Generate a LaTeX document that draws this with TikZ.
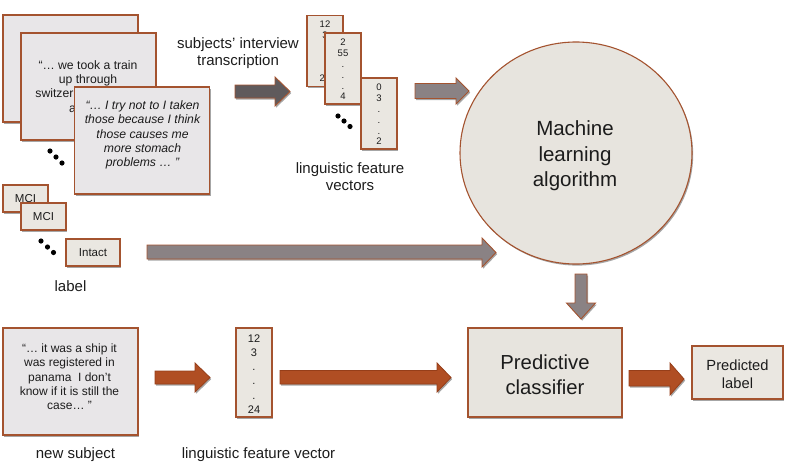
\documentclass[tikz,border=0pt]{standalone}
\usepackage{fontspec}
\setmainfont{Liberation Sans}
\usetikzlibrary{shadows,shapes.geometric}
\definecolor{brd}{RGB}{164,83,47}
\definecolor{qfill}{RGB}{232,230,232}
\definecolor{bfill}{RGB}{234,231,225}
\definecolor{cfill}{RGB}{231,228,222}
\definecolor{garrow}{RGB}{138,130,132}
\definecolor{darrow}{RGB}{95,90,92}
\definecolor{oarrow}{RGB}{176,78,35}
\definecolor{oborder}{RGB}{150,62,25}
\definecolor{txt}{RGB}{28,28,28}
\begin{document}
\begin{tikzpicture}[x=1pt,y=-1pt,
  shd/.style={drop shadow={shadow xshift=1.2pt,shadow yshift=-1.6pt,opacity=0.35,fill=black}},
  boxbase/.style={draw=brd,line width=1.1pt,shd,inner sep=0pt,text=txt},
  quote/.style={boxbase,fill=qfill,minimum width=135pt,minimum height=107pt},
  vec/.style={boxbase,fill=bfill,minimum width=36pt,minimum height=71pt},
  lbl/.style={boxbase,fill=bfill,minimum width=45pt,minimum height=27pt,font=\fontsize{11.5}{13}\selectfont},
  qtext/.style={align=center,text=txt,font=\fontsize{12.2}{14.4}\selectfont},
  vtext/.style={align=center,text=txt,font=\fontsize{9.5}{10.8}\selectfont},
  caption/.style={align=center,text=txt,font=\fontsize{15}{17}\selectfont},
  garr/.style={draw=brd,line width=0.9pt,fill=garrow,shd},
  darr/.style={draw=brd,line width=0.9pt,fill=darrow,shd},
  oarr/.style={draw=oborder,line width=0.8pt,fill=oarrow,shd},
  dotf/.style={fill=black}
]
\useasboundingbox (0,0) rectangle (785,472);

% --- top-left interview cards
\node[quote] (c1) at (70.5,68.5) {};
\node[quote] (c2) at (88.5,86.5) {};
\node[qtext] (c2t) at (88,87.5) {“… we took a train\\up through\\switzerland and the\\alps …};
\node[quote] (c3) at (142,140.5) {};
\node[qtext,font=\fontsize{12.2}{14.4}\selectfont\itshape] (c3t) at (142.5,135) {“… I try not to I taken\\those because I think\\those causes me\\more stomach\\problems … ”};
\fill[dotf] (50,151) circle (2.6) (56,157) circle (2.6) (62,163) circle (2.6);

\node[caption] (subj) at (238,53) {subjects’ interview\\transcription};

% --- top feature vectors
\node[vec] (va) at (325,51) {};
\node[vtext] (vat) at (325,51.5) {12\\3\\.\\.\\.\\24};
\node[vec] (vb) at (343,68.5) {};
\node[vtext] (vbt) at (343,69.5) {2\\55\\.\\.\\.\\4};
\node[vec] (vc) at (379,113.5) {};
\node[vtext] (vct) at (379,114.5) {0\\3\\.\\.\\.\\2};
\fill[dotf] (338,116) circle (2.6) (344,121) circle (2.6) (350,126.5) circle (2.6);
\node[caption] (lfv) at (350,177) {linguistic feature\\vectors};

% --- machine learning circle
\node[draw=brd,line width=1.1pt,fill=cfill,shd,ellipse,minimum width=232pt,minimum height=222pt,inner sep=0pt] (ml) at (576,153) {};
\node[align=center,text=txt,font=\fontsize{20.5}{25.5}\selectfont] (mlt) at (575,156) {Machine\\learning\\algorithm};

% --- labels
\node[lbl] (l1) at (25.5,198.5) {MCI};
\node[lbl] (l2) at (43.5,216.5) {MCI};
\node[lbl,minimum width=54pt] (l3) at (93,252.5) {Intact};
\fill[dotf] (41,241) circle (2.6) (47.5,247) circle (2.6) (53.5,252.5) circle (2.6);
\node[caption] (lab) at (70.5,286) {label};

% --- gray arrows (training)
\draw[darr] (235,85) -- (275,85) -- (275,77) -- (290,91.5) -- (275,106) -- (275,98) -- (235,98) -- cycle;
\draw[garr] (415,83.5) -- (456,83.5) -- (456,78) -- (469,91) -- (456,104) -- (456,98.5) -- (415,98.5) -- cycle;
\draw[garr] (147,245) -- (482,245) -- (482,238) -- (496,252.5) -- (482,267) -- (482,259) -- (147,259) -- cycle;
\draw[garr] (575,274) -- (587,274) -- (587,303) -- (595.5,303) -- (581,319) -- (566.5,303) -- (575,303) -- cycle;

% --- bottom row
\node[quote] (ns) at (70.5,381.5) {};
\node[qtext,font=\fontsize{12}{14.3}\selectfont] (nst) at (69.5,377) {“… it was a ship it\\was registered in\\panama~~I don’t\\know if it is still the\\case… ”};
\node[caption] (nsc) at (75.5,455) {new subject};

\node[vec,minimum height=89pt] (vd) at (254,372.5) {};
\node[vtext,font=\fontsize{11}{14.2}\selectfont] (vdt) at (254,374) {12\\3\\.\\.\\.\\24};
\node[caption] (lfv2) at (258.5,455) {linguistic feature vector};

\node[boxbase,fill=cfill,minimum width=154pt,minimum height=89pt] (pc) at (545,372.5) {};
\node[align=center,text=txt,font=\fontsize{20.3}{25}\selectfont] (pct) at (545,375) {Predictive\\classifier};

\node[boxbase,fill=bfill,minimum width=91pt,minimum height=53pt] (pl) at (737.5,372.5) {};
\node[align=center,text=txt,font=\fontsize{14.7}{18}\selectfont] (plt) at (737.5,374.5) {Predicted\\label};

% --- orange arrows
\draw[oarr] (155,371) -- (195,371) -- (195,363) -- (210,377.5) -- (195,392) -- (195,384) -- (155,384) -- cycle;
\draw[oarr] (280,370.5) -- (437,370.5) -- (437,363) -- (451,377.5) -- (437,392) -- (437,384) -- (280,384) -- cycle;
\draw[oarr] (629,370.5) -- (670,370.5) -- (670,363) -- (684,379) -- (670,395) -- (670,386) -- (629,386) -- cycle;
\end{tikzpicture}
\end{document}
